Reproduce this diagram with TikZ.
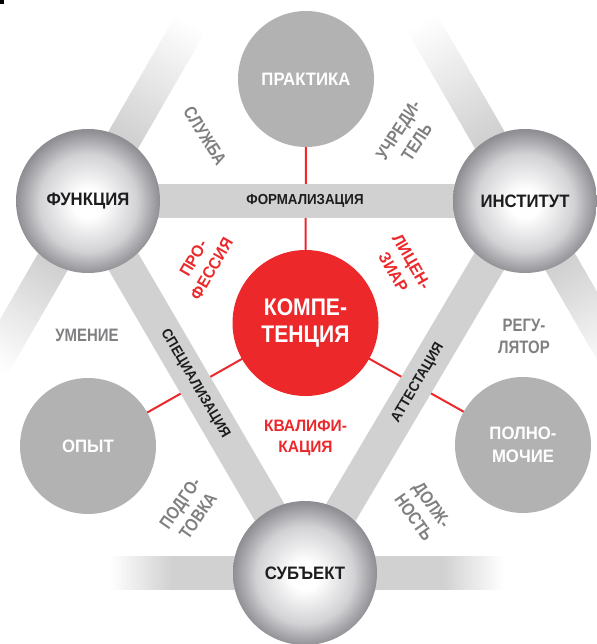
\documentclass[tikz,border=0pt]{standalone}
\usepackage{fontspec}
\setmainfont{Liberation Sans}
\newfontfamily\fntA{Liberation Sans}[FakeStretch=0.93]
\newfontfamily\fntB{Liberation Sans}[FakeStretch=0.88]
\newfontfamily\fntC{Liberation Sans}[FakeStretch=0.83]
\newfontfamily\fntD{Liberation Sans}[FakeStretch=0.94]
\newfontfamily\fntE{Liberation Sans}[FakeStretch=0.92]
\definecolor{barg}{RGB}{209,209,209}
\definecolor{circg}{RGB}{178,178,178}
\definecolor{redc}{RGB}{236,40,43}
\definecolor{lblg}{RGB}{128,128,130}
\definecolor{txtk}{RGB}{30,28,30}
\definecolor{sphA}{RGB}{210,210,213}
\definecolor{sphB}{RGB}{142,142,147}
\pgfdeclareradialshading{sphereshade}{\pgfpoint{0bp}{-1bp}}{color(0bp)=(white); color(5bp)=(white); color(17bp)=(sphA); color(25bp)=(sphB); color(50bp)=(sphB)}
\pgfdeclarelayer{redl}
\pgfdeclarelayer{bars}
\pgfsetlayers{redl,bars,main}
\newcommand\fsz[2]{\fontsize{#1}{#2}\selectfont\bfseries}
\newcommand\myfadebar[4]{%
  \begin{scope}[shift={(#1.center)}, rotate=#2]
    \fill[barg] (0,-17) rectangle (#3+0.5,17);
    \foreach \i in {0,...,39}{
      \pgfmathsetmacro\pc{100-100*(\i+0.5)/40}
      \pgfmathsetmacro\xa{#3+(#4-#3)*\i/40}
      \pgfmathsetmacro\xb{#3+(#4-#3)*(\i+1)/40+0.6}
      \fill[barg!\pc!white] (\xa,-17) rectangle (\xb,17);
    }
  \end{scope}}
\tikzset{
  sphere/.style={circle, minimum size=144pt, inner sep=0pt, shading=sphereshade, text=txtk, font=\fntA\fsz{18}{22}, align=center},
  gcirc/.style={circle, minimum size=136pt, inner sep=0pt, fill=circg, text=white, font=\fntA\fsz{18}{23}, align=center},
  rcirc/.style={circle, minimum size=146pt, inner sep=0pt, fill=redc, text=white, font=\fntB\fsz{24}{27.5}, align=center},
  barlbl/.style={text=txtk, font=\fntE\fsz{14.5}{17}, inner sep=0pt},
  glbl/.style={text=lblg, font=\fntC\fsz{18}{22}, align=center, inner sep=0pt},
  rlbl/.style={text=redc, font=\fntD\fsz{16.5}{21}, align=center, inner sep=0pt},
  barline/.style={draw=barg, line width=34pt},
  redline/.style={draw=redc, line width=2pt}
}
\begin{document}
\begin{tikzpicture}[x=1pt, y=1pt]
\useasboundingbox (0,0) rectangle (596,-644);
\fill[black] (0,0) rectangle (3.5,-4.5);
% nodes
\node[gcirc] (P) at (306,-79) {ПРАКТИКА};
\node[gcirc] (O) at (88,-446) {ОПЫТ};
\node[gcirc] (PM) at (523,-445) {ПОЛНО-\\МОЧИЕ};
\node[rcirc] (K) at (305.5,-323) {КОМПЕ-\\ТЕНЦИЯ};
\node[sphere] (F) at (88,-201) {ФУНКЦИЯ};
\node[sphere] (I) at (525,-201) {ИНСТИТУТ};
\node[sphere] (S) at (305,-573) {СУБЪЕКТ};
% red connectors
\begin{pgfonlayer}{redl}
  \draw[redline] (K.center) -- (P.center);
  \draw[redline] (K.center) -- (O.center);
  \draw[redline] (K.center) -- (PM.center);
\end{pgfonlayer}
% bars
\begin{pgfonlayer}{bars}
  \draw[barline] (F.center) -- (I.center);
  \draw[barline] (F.center) -- (S.center);
  \draw[barline] (I.center) -- (S.center);
  \myfadebar{F}{60}{75}{205}
  \myfadebar{F}{240}{75}{190}
  \myfadebar{I}{120}{75}{205}
  \myfadebar{I}{-60}{75}{190}
  \myfadebar{S}{180}{133}{195}
  \myfadebar{S}{0}{138}{199}
\end{pgfonlayer}
% bar labels
\node[barlbl] (lf) at (305,-201) {ФОРМАЛИЗАЦИЯ};
\node[barlbl, rotate=-59.7] (ls) at (195,-384) {СПЕЦИАЛИЗАЦИЯ};
\node[barlbl, rotate=59.4] (la) at (418,-383) {АТТЕСТАЦИЯ};
% red labels
\node[rlbl, rotate=60] (lp) at (202.5,-263.5) {ПРО-\\ФЕССИЯ};
\node[rlbl, rotate=-60] (ll) at (402.5,-267) {ЛИЦЕН-\\ЗИАР};
\node[rlbl] (lk) at (305.5,-438) {КВАЛИФИ-\\КАЦИЯ};
% gray labels
\node[glbl, rotate=-58] (lsl) at (205,-136) {СЛУЖБА};
\node[glbl, rotate=57] (lu) at (407.5,-136) {УЧРЕДИ-\\ТЕЛЬ};
\node[glbl] (lum) at (87,-335) {УМЕНИЕ};
\node[glbl] (lr) at (524,-336) {РЕГУ-\\ЛЯТОР};
\node[glbl, rotate=55] (lpd) at (189,-509.5) {ПОДГО-\\ТОВКА};
\node[glbl, rotate=-55] (ld) at (423,-511) {ДОЛЖ-\\НОСТЬ};
\end{tikzpicture}
\end{document}
